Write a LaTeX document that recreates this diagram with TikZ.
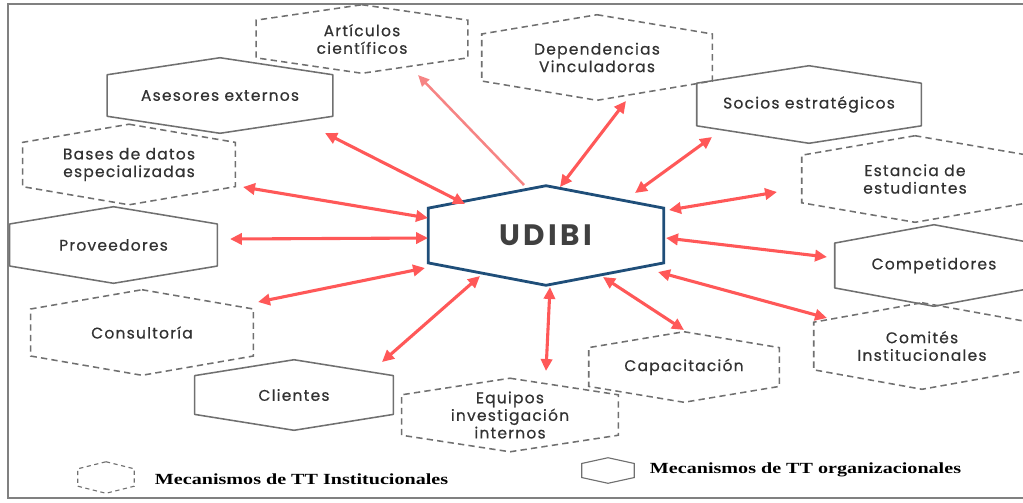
\documentclass[tikz,border=0pt]{standalone}
\usepackage{fontspec}
\setmainfont{Poppins}
\newfontfamily\hexfont[LetterSpace=8,FakeBold=0.6]{Poppins}
\newfontfamily\udfont[LetterSpace=12]{Poppins}
\newfontfamily\legendfont[FakeStretch=1.3]{Liberation Serif}
\usetikzlibrary{calc,arrows.meta}
\definecolor{hexGrey}{RGB}{112,112,112}
\definecolor{txtGrey}{RGB}{50,50,50}
\definecolor{udBlue}{RGB}{31,78,121}
\definecolor{linkRed}{RGB}{255,88,88}
\definecolor{linkPink}{RGB}{246,132,132}

% hexagon with pointed top and bottom around a named box
\newcommand{\hexframe}[2][]{%
  \draw[#1] (#2.north) -- ($(#2.north east)!.225!(#2.south east)$)
    -- ($(#2.south east)!.225!(#2.north east)$) -- (#2.south)
    -- ($(#2.south west)!.225!(#2.north west)$)
    -- ($(#2.north west)!.225!(#2.south west)$) -- cycle;}

\begin{document}
\begin{tikzpicture}[
    x=0.025cm, y=-0.025cm,
    hexa/.style 2 args={rectangle, minimum width=#1*0.025cm, minimum height=#2*0.025cm,
      inner sep=0pt, align=center, text=txtGrey, font=\hexfont\fontsize{11}{12.5}\selectfont},
    org/.style={draw=hexGrey, line width=1.1pt, line join=round},
    inst/.style={draw=hexGrey, line width=1.1pt, dash pattern=on 4.5pt off 3pt},
    link/.style={{Triangle[length=8.5pt,width=8pt]}-{Triangle[length=8.5pt,width=8pt]}, draw=linkRed, line width=2.2pt},
    legend/.style={font=\legendfont\bfseries\fontsize{11}{12}\selectfont, anchor=west}
]
\useasboundingbox (0,0) rectangle (1023,502);
\clip (0,0) rectangle (1023,502);
\draw[gray, line width=1.5pt] (8,4) rectangle (1040,498);

% centre
\node[hexa={235}{99}, font=\udfont\fontsize{21}{24}\selectfont\bfseries, text=black!75] (udibi) at (546,235.5) {UDIBI};
\hexframe[draw=udBlue, line width=2pt]{udibi}

% organisational mechanisms (solid)
\node[hexa={225}{75}] (ases) at (220,95.5) {Asesores externos};
\node[hexa={224}{77}] (socios) at (809,104.5) {Socios estratégicos};
\node[hexa={207}{76}] (prov) at (113.5,245) {Proveedores};
\node[hexa={198}{81}] (comp) at (934,265.5) {Competidores};
\node[hexa={198}{70}] (clien) at (294,395) {Clientes};
\foreach \n in {ases,socios,prov,comp,clien} {\hexframe[org]{\n}}

% institutional mechanisms (dashed)
\node[hexa={211}{68}] (artic) at (362,39) {Artículos\\científicos};
\node[hexa={230}{85}] (depen) at (597,57.5) {Dependencias\\Vinculadoras};
\node[hexa={212}{80}] (bases) at (129,164.5) {Bases de datos\\especializadas};
\node[hexa={226}{86}] (estan) at (915,179) {Estancia de\\estudiantes};
\node[hexa={222}{85}] (consu) at (142,332.5) {Consultoría};
\node[hexa={216}{86}] (comit) at (922,346) {Comités\\Institucionales};
\node[hexa={190}{70}] (capac) at (684,367) {Capacitación};
\node[hexa={216}{73}] (equip) at (510,415) {Equipos\\investigación\\internos};
\foreach \n in {artic,depen,bases,estan,consu,comit,capac,equip} {\hexframe[inst]{\n}}

% links
\draw[link] ([shift={(-81,-31.5)}]udibi.center) -- ([shift={(105,37.5)}]ases.center);
\draw[-{Triangle[length=8pt,width=7pt]}, draw=linkPink, line width=1.8pt]
  ([shift={(-22,-50.5)}]udibi.center) -- ([shift={(56,36)}]artic.center);
\draw[link] ([shift={(14,-48.5)}]udibi.center) -- ([shift={(29,43.5)}]depen.center);
\draw[link] ([shift={(89,-42.5)}]udibi.center) -- ([shift={(-97,32.5)}]socios.center);
\draw[link] ([shift={(123,-25.5)}]udibi.center) -- ([shift={(-138,13)}]estan.center);
\draw[link] ([shift={(-118,-17.5)}]udibi.center) -- ([shift={(114,22.5)}]bases.center);
\draw[link] ([shift={(-118,2.5)}]udibi.center) -- ([shift={(116.5,-6)}]prov.center);
\draw[link] ([shift={(120,2.5)}]udibi.center) -- ([shift={(-107,-8.5)}]comp.center);
\draw[link] ([shift={(-121,32.5)}]udibi.center) -- ([shift={(116,-30.5)}]consu.center);
\draw[link] ([shift={(112,36.5)}]udibi.center) -- ([shift={(-95,-28)}]comit.center);
\draw[link] ([shift={(-66,40.5)}]udibi.center) -- ([shift={(88,-33)}]clien.center);
\draw[link] ([shift={(4,51.5)}]udibi.center) -- ([shift={(36,-44)}]equip.center);
\draw[link] ([shift={(57,41.5)}]udibi.center) -- ([shift={(0,-37)}]capac.center);

% legend
\node[hexa={56}{31}] (keyinst) at (106,477.5) {};
\hexframe[draw=hexGrey, line width=0.8pt, dash pattern=on 3pt off 2.5pt]{keyinst}
\node[legend] (txtinst) at (150,479) {Mecanismos de TT Institucionales};
\node[hexa={52}{25}] (keyorg) at (608,470.5) {};
\hexframe[draw=hexGrey, line width=0.8pt]{keyorg}
\node[legend] (txtorg) at (645,470) {Mecanismos de TT organizacionales};
\end{tikzpicture}
\end{document}
